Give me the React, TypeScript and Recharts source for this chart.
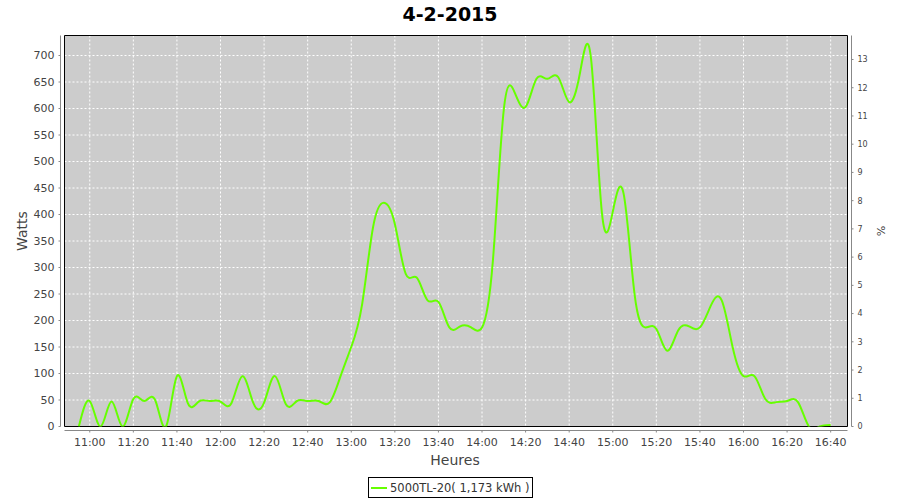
import React from 'react';
import { LineChart, Line, XAxis, YAxis, CartesianGrid, ReferenceLine, ReferenceArea, Legend } from 'recharts';

// one reading every 5 minutes, 10:55 -> 16:40
const times = [
    '10:55', '11:00', '11:05', '11:10', '11:15', '11:20', '11:25', '11:30', '11:35', '11:40', '11:45', '11:50',
    '11:55', '12:00', '12:05', '12:10', '12:15', '12:20', '12:25', '12:30', '12:35', '12:40', '12:45', '12:50',
    '12:55', '13:00', '13:05', '13:10', '13:15', '13:20', '13:25', '13:30', '13:35', '13:40', '13:45', '13:50',
    '13:55', '14:00', '14:05', '14:10', '14:15', '14:20', '14:25', '14:30', '14:35', '14:40', '14:45', '14:50',
    '14:55', '15:00', '15:05', '15:10', '15:15', '15:20', '15:25', '15:30', '15:35', '15:40', '15:45', '15:50',
    '15:55', '16:00', '16:05', '16:10', '16:15', '16:20', '16:25', '16:30', '16:35', '16:40',
];

const watts = [
    0, 48, 0, 47, 0, 52, 48, 50, 0, 95, 44, 47,
    48, 47, 44, 95, 45, 45, 95, 42, 48, 48, 48, 45,
    94, 150, 231, 376, 422, 382, 288, 281, 238, 235, 187, 189,
    187, 187, 313, 598, 630, 603, 656, 656, 659, 612, 668, 695,
    404, 405, 439, 250, 187, 184, 143, 181, 189, 187, 228, 238,
    150, 95, 95, 52, 46, 48, 46, 0, 0, 3,
];

const hourTicks = ['11:00', '11:20', '11:40', '12:00', '12:20', '12:40', '13:00', '13:20', '13:40', '14:00',
    '14:20', '14:40', '15:00', '15:20', '15:40', '16:00', '16:20', '16:40'];
const wattTicks = [0, 50, 100, 150, 200, 250, 300, 350, 400, 450, 500, 550, 600, 650, 700];
const pctTicks = [0, 1, 2, 3, 4, 5, 6, 7, 8, 9, 10, 11, 12, 13];

const seriesName = '5000TL-20( 1,173 kWh )';
const lineColor = '#66ff00';
const axisGray = '#888888';
const textGray = '#444444';
const font = '"DejaVu Sans", sans-serif';

const toMin = (s: string) => {
    const [h, m] = s.split(':').map(Number);
    return h * 60 + m;
};
const fmtMin = (v: number) => `${Math.floor(v / 60)}:${String(Math.round(v) % 60).padStart(2, '0')}`;

const data = times.map((t, i) => ({ t: toMin(t), w: watts[i] }));

// axis ranges (the axis lines sit 4px away from the plot frame)
const xMin = 648.41;
const xMax = 1007.72;
const yMax = 737.74;
const pctMax = 13.85;
const leftAxisX = 646.57;
const rightAxisX = 1009.56;
const bottomAxisY = -7.55;

const LeftTick = ({ x, y, payload }: any) => (
    <g>
        <line x1={x + 4} x2={x + 6} y1={y} y2={y} stroke={axisGray} />
        <text x={x} y={y} dy="0.36em" textAnchor="end" fill={textGray} fontSize={11} fontFamily={font}>
            {payload.value}
        </text>
    </g>
);

const RightTick = ({ x, y, payload }: any) => (
    <g>
        <line x1={x - 6} x2={x - 4} y1={y} y2={y} stroke={axisGray} />
        <text x={x} y={y} dy="0.36em" textAnchor="start" fill={textGray} fontSize={8} fontFamily={font}>
            {payload.value}
        </text>
    </g>
);

const BottomTick = ({ x, y, payload }: any) => (
    <g>
        <line x1={x} x2={x} y1={y - 8} y2={y - 6} stroke={axisGray} />
        <text x={x} y={y} dy="0.71em" textAnchor="middle" fill={textGray} fontSize={11} fontFamily={font}>
            {fmtMin(payload.value)}
        </text>
    </g>
);

const renderLegend = (props: any) => {
    const item = (props.payload && props.payload[0]) || { value: seriesName, color: lineColor };
    return (
        <div
            style={{
                boxSizing: 'border-box',
                width: 165,
                height: 21,
                border: '1px solid #000',
                background: '#fff',
                display: 'flex',
                alignItems: 'center',
                paddingLeft: 2,
                fontFamily: font,
                fontSize: 11.5,
                color: '#333',
                whiteSpace: 'nowrap',
            }}
        >
            <span style={{ display: 'inline-block', width: 16, height: 2, background: item.color, marginRight: 3 }} />
            {item.value}
        </div>
    );
};

const App: React.FC = () => {
    return (
        <div style={{ position: 'absolute', left: 0, top: 0, width: 900, height: 500, background: '#fff' }}>
            <div
                style={{
                    position: 'absolute',
                    top: 3,
                    left: 0,
                    width: 900,
                    textAlign: 'center',
                    fontFamily: font,
                    fontWeight: 'bold',
                    fontSize: 19,
                    color: '#000',
                    zIndex: 2,
                }}
            >
                4-2-2015
            </div>
            <LineChart width={900} height={500} data={data} margin={{ top: 35.5, right: 0, bottom: 0, left: 0 }}>
                <CartesianGrid
                    fill="#cccccc"
                    fillOpacity={1}
                    stroke="#ffffff"
                    strokeDasharray="2 2"
                    horizontalValues={wattTicks}
                    verticalValues={hourTicks.map(toMin)}
                />
                <XAxis
                    dataKey="t"
                    type="number"
                    domain={[xMin, xMax]}
                    ticks={hourTicks.map(toMin)}
                    allowDataOverflow
                    height={73.5}
                    axisLine={false}
                    tickLine={false}
                    tickSize={6}
                    tickMargin={6}
                    tick={<BottomTick />}
                    interval={0}
                    label={() => (
                        <text x={455} y={465} textAnchor="middle" fill={textGray} fontSize={14} fontFamily={font}>
                            Heures
                        </text>
                    )}
                />
                <YAxis
                    type="number"
                    domain={[0, yMax]}
                    ticks={wattTicks}
                    allowDataOverflow
                    width={64.5}
                    axisLine={false}
                    tickLine={false}
                    tickSize={6}
                    tickMargin={4}
                    tick={<LeftTick />}
                    interval={0}
                    label={() => (
                        <text x={22} y={231} transform="rotate(-90 22 231)" textAnchor="middle" dominantBaseline="central"
                            fill={textGray} fontSize={14} fontFamily={font}>
                            Watts
                        </text>
                    )}
                />
                <YAxis
                    yAxisId="right"
                    orientation="right"
                    type="number"
                    domain={[0, pctMax]}
                    ticks={pctTicks}
                    allowDataOverflow
                    width={52.5}
                    axisLine={false}
                    tickLine={false}
                    tickSize={6}
                    tickMargin={4}
                    tick={<RightTick />}
                    interval={0}
                    label={() => (
                        <text x={880} y={231} transform="rotate(90 880 231)" textAnchor="middle" dominantBaseline="central"
                            fill={textGray} fontSize={11} fontFamily={font}>
                            %
                        </text>
                    )}
                />
                <ReferenceLine x={leftAxisX} stroke={axisGray} ifOverflow="visible" />
                <ReferenceLine x={rightAxisX} stroke={axisGray} ifOverflow="visible" />
                <ReferenceLine y={bottomAxisY} stroke={axisGray} ifOverflow="visible" />
                <Line
                    type="natural"
                    dataKey="w"
                    name={seriesName}
                    stroke={lineColor}
                    strokeWidth={2}
                    dot={false}
                    activeDot={false}
                    isAnimationActive={false}
                />
                <ReferenceArea x1={xMin} x2={xMax} y1={0} y2={yMax} fill="none" fillOpacity={0} stroke="#000" strokeWidth={1} ifOverflow="visible" />
                <Legend
                    layout="horizontal"
                    verticalAlign="middle"
                    align="center"
                    content={renderLegend}
                    wrapperStyle={{ left: 368, top: 477, width: 165, height: 21 }}
                />
            </LineChart>
        </div>
    );
};

export default App;
